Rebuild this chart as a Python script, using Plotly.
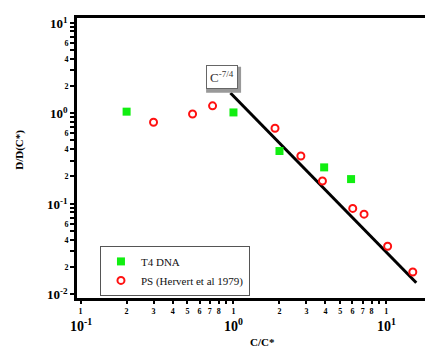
import plotly.graph_objects as go

# ---- data ----
t4_x = [0.20, 1.00, 2.00, 3.92, 5.88]
t4_y = [1.04, 1.02, 0.382, 0.252, 0.187]

ps_x = [0.30, 0.54, 0.73, 1.87, 2.76, 3.82, 6.03, 7.15, 10.2, 14.9]
ps_y = [0.795, 0.98, 1.205, 0.682, 0.337, 0.178, 0.0887, 0.0767, 0.0339, 0.0176]

fit_x = [0.956, 15.7]
fit_y = [1.67, 0.0134]

x_decades = [-1, 0, 1]
x_labeled_digits = [1, 2, 3, 4, 5, 6, 7, 8]
y_decades = [-2, -1, 0, 1]
y_labeled_digits = [2, 4, 6]

SERIF = "Liberation Serif"

# ---- tick arrays ----
xtv, xtt, xminor = [], [], []
for d in x_decades:
    for k in range(1, 10):
        if d == 1 and k > 1:
            continue
        v = k * 10 ** d
        xminor.append(v)
        if k in x_labeled_digits:
            xtv.append(v)
            xtt.append(str(k))

ytv, ytt, yminor = [], [], []
for d in y_decades:
    for k in range(1, 10):
        if d == 1 and k > 1:
            continue
        v = k * 10 ** d
        yminor.append(v)
        if k in y_labeled_digits:
            ytv.append(v)
            ytt.append(str(k))

fig = go.Figure()
fig.add_trace(go.Scatter(x=fit_x, y=fit_y, mode="lines",
                         line=dict(color="black", width=3), showlegend=False))
fig.add_trace(go.Scatter(x=t4_x, y=t4_y, mode="markers", name="T4 DNA",
                         marker=dict(symbol="square", size=8, color="#11ee11",
                                     line=dict(width=0))))
fig.add_trace(go.Scatter(x=ps_x, y=ps_y, mode="markers", name="PS (Hervert et al 1979)",
                         marker=dict(symbol="circle-open", size=7, color="#ff1111",
                                     line=dict(width=2, color="#ff1111"))))

fig.update_layout(
    width=425, height=347,
    margin=dict(l=77, r=0, t=18, b=49),
    paper_bgcolor="white", plot_bgcolor="white",
    font=dict(family=SERIF, color="black"),
    legend=dict(x=0.066, y=0.186, xanchor="left", yanchor="top",
                bordercolor="#555555", borderwidth=1, bgcolor="white",
                font=dict(family=SERIF, size=11, color="#111111"),
                tracegroupgap=0, itemwidth=30),
    xaxis=dict(type="log", range=[-1.0235, 1.253],
               showgrid=False, zeroline=False,
               showline=True, linecolor="black", linewidth=3, mirror=True,
               tickmode="array", tickvals=xtv, ticktext=xtt,
               ticks="outside", ticklen=3, tickwidth=2, tickcolor="black",
               minor=dict(tickmode="array", tickvals=xminor, ticks="outside",
                          ticklen=3, tickwidth=2, tickcolor="black", showgrid=False),
               tickfont=dict(family=SERIF, size=8, weight="bold")),
    yaxis=dict(type="log", range=[-2.042, 1.052],
               showgrid=False, zeroline=False,
               showline=True, linecolor="black", linewidth=3, mirror=False,
               tickmode="array", tickvals=ytv, ticktext=ytt,
               ticks="outside", ticklen=4, tickwidth=2, tickcolor="black",
               minor=dict(tickmode="array", tickvals=yminor, ticks="outside",
                          ticklen=4, tickwidth=2, tickcolor="black", showgrid=False),
               tickfont=dict(family=SERIF, size=8, weight="bold")),
)

# decade labels under x axis
for d in x_decades:
    fig.add_annotation(x=d, y=-0.096, xref="x", yref="paper",
                       xanchor="center", yanchor="middle",
                       text="10<sup>%d</sup>" % d, showarrow=False,
                       font=dict(family=SERIF, size=14, weight="bold"))

# decade labels left of y axis
for d in y_decades:
    fig.add_annotation(x=-0.02, y=d, xref="paper", yref="y",
                       xanchor="right", yanchor="middle",
                       text="10<sup>%d</sup>" % d, showarrow=False,
                       font=dict(family=SERIF, size=13, weight="bold"))

fig.add_annotation(x=0.534, y=-0.157, xref="paper", yref="paper",
                   xanchor="center", yanchor="middle",
                   text="C/C*", showarrow=False,
                   font=dict(family=SERIF, size=11, weight="bold"))
fig.add_annotation(x=-0.164, y=0.529, xref="paper", yref="paper",
                   xanchor="center", yanchor="middle",
                   text="D/D(C*)", showarrow=False, textangle=-90,
                   font=dict(family=SERIF, size=11, weight="bold"))

# slope label box (with shadow)
fig.add_shape(type="rect", xref="paper", yref="paper",
              x0=0.371, x1=0.4715, y0=0.733, y1=0.826,
              fillcolor="#999999", line=dict(width=0), layer="above")
fig.add_annotation(x=0.4155, y=0.789, xref="paper", yref="paper",
                   xanchor="center", yanchor="middle",
                   text="C<sup>-7/4</sup>", showarrow=False,
                   bgcolor="white", bordercolor="#666666", borderwidth=1,
                   borderpad=3,
                   font=dict(family=SERIF, size=13, color="#333333"))

fig.write_html("out.html")
